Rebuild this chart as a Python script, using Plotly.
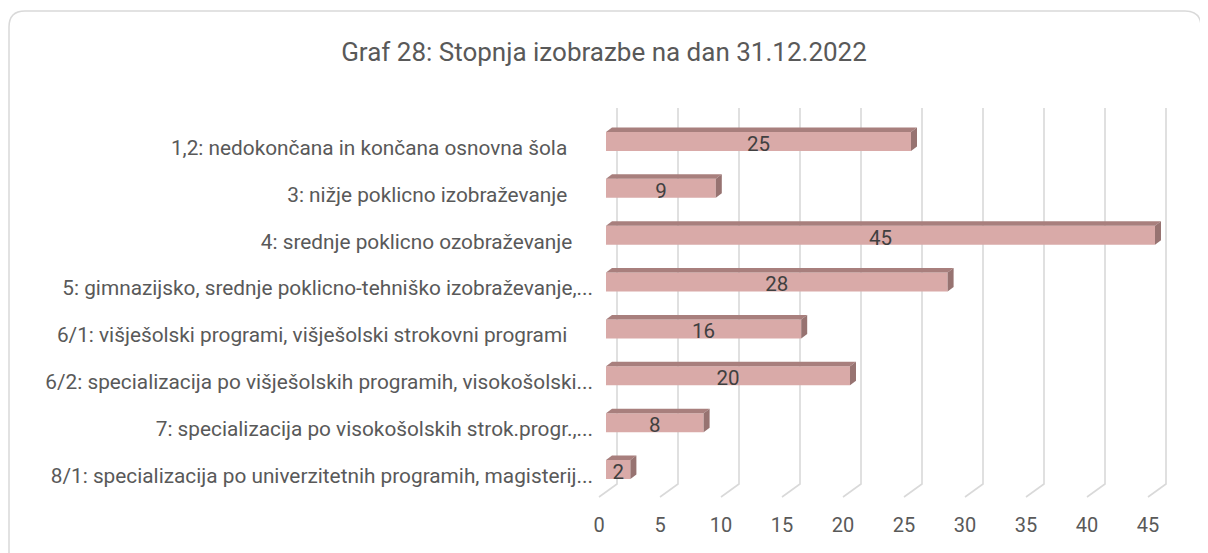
import plotly.graph_objects as go

# ---------------- data ----------------
categories = [
    "1,2: nedokončana in končana osnovna šola\u00a0\u00a0\u00a0\u00a0\u00a0",
    "3: nižje poklicno izobraževanje\u00a0\u00a0\u00a0\u00a0\u00a0",
    "4: srednje poklicno ozobraževanje\u00a0\u00a0\u00a0\u00a0",
    "5: gimnazijsko, srednje poklicno-tehniško izobraževanje,...",
    "6/1: višješolski programi, višješolski strokovni programi\u00a0\u00a0\u00a0\u00a0\u00a0",
    "6/2: specializacija po višješolskih programih, visokošolski...",
    "7: specializacija po visokošolskih strok.progr.,...",
    "8/1: specializacija po univerzitetnih programih, magisterij...",
]
values = [25, 9, 45, 28, 16, 20, 8, 2]
x_ticks = [0, 5, 10, 15, 20, 25, 30, 35, 40, 45]
title_text = "Graf 28: Stopnja izobrazbe na dan 31.12.2022"

# ---------------- geometry / style ----------------
OFF = 8  # page body margin offset
W, H = 1208, 553
L, R, T, B = 598 - OFF, 1175 - OFF, 108 - OFF, 497 - OFF
PX_PER_UNIT = 12.2
X0 = -(606 - OFF - L) / PX_PER_UNIT
X1 = X0 + (R - L) / PX_PER_UNIT
ROW_PX = 46.86
FIRST_ROW = 141.5 - OFF
Y_TOP = (T - FIRST_ROW) / ROW_PX
Y_BOT = (B - FIRST_ROW) / ROW_PX
BAR_W = 19 / ROW_PX
DEPTH_DX = 6 / PX_PER_UNIT
DEPTH_DY = 4.5 / ROW_PX
GRID_BACK_DX = 11 / PX_PER_UNIT
GRID_FRONT_DX = -7 / PX_PER_UNIT
FLOOR_BACK = 13 / (B - T)

FRONT = "#D9AAA8"
TOP = "#A87F7D"
SIDE = "#977371"
GRID = "#D9D9D9"
TXT = "#595959"
FONT = "Roboto"

idx = list(range(len(categories)))

fig = go.Figure()
fig.add_trace(go.Bar(
    x=values, y=idx, orientation="h", width=BAR_W,
    marker=dict(color=FRONT, line=dict(width=0)),
    hoverinfo="skip", showlegend=False,
))
fig.add_trace(go.Scatter(
    x=[v / 2 for v in values], y=[i + 0.09 for i in idx], mode="text",
    text=[str(v) for v in values],
    textfont=dict(family=FONT, size=20.5, color="#404040"),
    hoverinfo="skip", showlegend=False,
))

shapes = []
# gridlines: back wall vertical + floor diagonal
for t in x_ticks:
    shapes.append(dict(
        type="path", xref="x", yref="paper", layer="below",
        path=f"M {t + GRID_BACK_DX},1 L {t + GRID_BACK_DX},{FLOOR_BACK} L {t + GRID_FRONT_DX},0",
        line=dict(color=GRID, width=1.6),
    ))
# 3D faces of bars
for i, v in zip(idx, values):
    yt = i - BAR_W / 2
    yb = i + BAR_W / 2
    shapes.append(dict(
        type="path", xref="x", yref="y", layer="above",
        path=f"M 0,{yt} L {v},{yt} L {v + DEPTH_DX},{yt - DEPTH_DY} L {DEPTH_DX},{yt - DEPTH_DY} Z",
        fillcolor=TOP, line=dict(width=0),
    ))
    shapes.append(dict(
        type="path", xref="x", yref="y", layer="above",
        path=f"M {v},{yt} L {v + DEPTH_DX},{yt - DEPTH_DY} L {v + DEPTH_DX},{yb - DEPTH_DY} L {v},{yb} Z",
        fillcolor=SIDE, line=dict(width=0),
    ))
# chart border (rounded)
bl, br, bt, bb, rad = 9 - OFF - L, 1201 - OFF - L, T - (11 - OFF), T - 575, 16
shapes.append(dict(
    type="path", xref="paper", yref="paper", xsizemode="pixel", ysizemode="pixel",
    xanchor=0, yanchor=1, layer="below",
    path=(f"M {bl},{bb} L {bl},{bt - rad} Q {bl},{bt} {bl + rad},{bt} "
          f"L {br - rad},{bt} Q {br},{bt} {br},{bt - rad} L {br},{bb}"),
    line=dict(color=GRID, width=1.5),
))

fig.update_layout(
    width=W, height=H,
    margin=dict(l=L, r=W - R, t=T, b=H - B, pad=0),
    paper_bgcolor="white", plot_bgcolor="white",
    shapes=shapes,
    title=dict(text=title_text, x=(604 - OFF) / W, xref="container", xanchor="center",
               y=1 - (52 - OFF) / H, yanchor="middle",
               font=dict(family=FONT, size=26, color=TXT)),
    font=dict(family=FONT, size=20, color=TXT),
    xaxis=dict(range=[X0, X1], tickvals=x_ticks, showgrid=False, zeroline=False,
               showline=False, ticks="", ticklabelshift=-7, ticklabelstandoff=14,
               tickfont=dict(family=FONT, size=20, color=TXT), fixedrange=True),
    yaxis=dict(range=[Y_BOT, Y_TOP], tickvals=idx, ticktext=categories,
               showgrid=False, zeroline=False, showline=False, ticks="",
               ticklabelshift=-6, ticklabelstandoff=4,
               tickfont=dict(family=FONT, size=20.8, color=TXT), fixedrange=True),
)

fig.write_html("out.html")
